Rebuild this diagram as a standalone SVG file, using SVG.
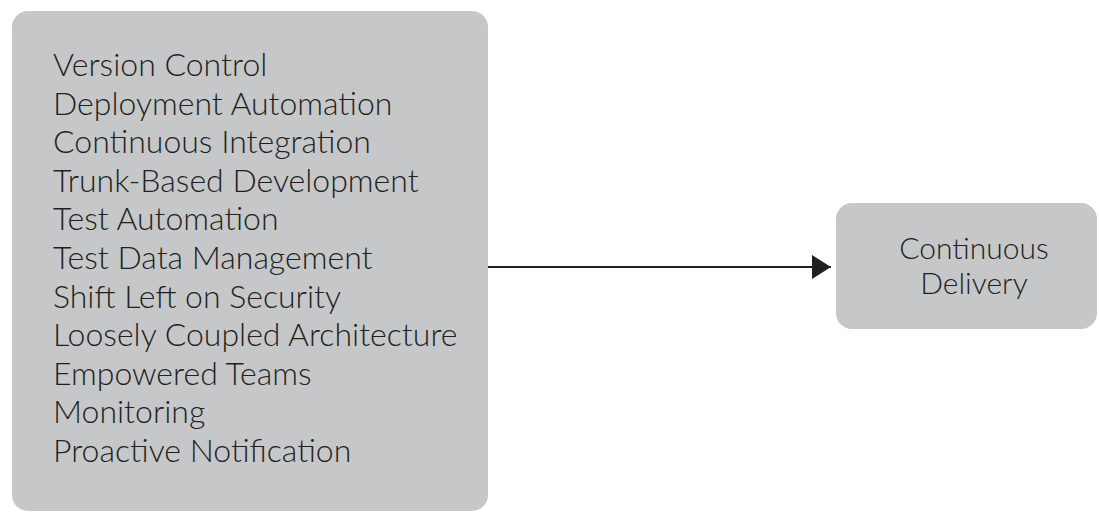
<svg xmlns="http://www.w3.org/2000/svg" width="1099" height="512" viewBox="0 0 1099 512">
<defs>
<style>
.box{fill:#c6c7c9;}
.t{font-family:Lato,"Liberation Sans",sans-serif;font-weight:300;fill:#231f20;}
.big{font-size:32px;}
.small{font-size:30px;text-anchor:middle;}
</style>
<marker id="ah" markerWidth="20" markerHeight="24" refX="19" refY="12" orient="auto" markerUnits="userSpaceOnUse">
<path d="M0,0 L19,12 L0,24 Z" fill="#231f20"/>
</marker>
</defs>
<rect width="1099" height="512" fill="#ffffff"/>
<g id="connectors">
<line x1="488" y1="267" x2="831" y2="267" stroke="#231f20" stroke-width="2" marker-end="url(#ah)"/>
</g>
<g id="practices">
<rect class="box" x="12" y="11" width="476" height="500" rx="16"/>
<text class="t big" x="53">
<tspan x="53" y="76">Version Control</tspan>
<tspan x="53" y="114.6">Deployment Automation</tspan>
<tspan x="53" y="153.2">Continuous Integration</tspan>
<tspan x="53" y="191.8">Trunk-Based Development</tspan>
<tspan x="53" y="230.4">Test Automation</tspan>
<tspan x="53" y="269">Test Data Management</tspan>
<tspan x="53" y="307.6">Shift Left on Security</tspan>
<tspan x="53" y="346.2">Loosely Coupled Architecture</tspan>
<tspan x="53" y="384.8">Empowered Teams</tspan>
<tspan x="53" y="423.4">Monitoring</tspan>
<tspan x="53" y="462">Proactive Notification</tspan>
</text>
</g>
<g id="continuous-delivery">
<rect class="box" x="836" y="203" width="261" height="126" rx="16"/>
<text class="t small" x="974"><tspan x="974" y="259">Continuous</tspan><tspan x="974" y="294">Delivery</tspan></text>
</g>
</svg>
